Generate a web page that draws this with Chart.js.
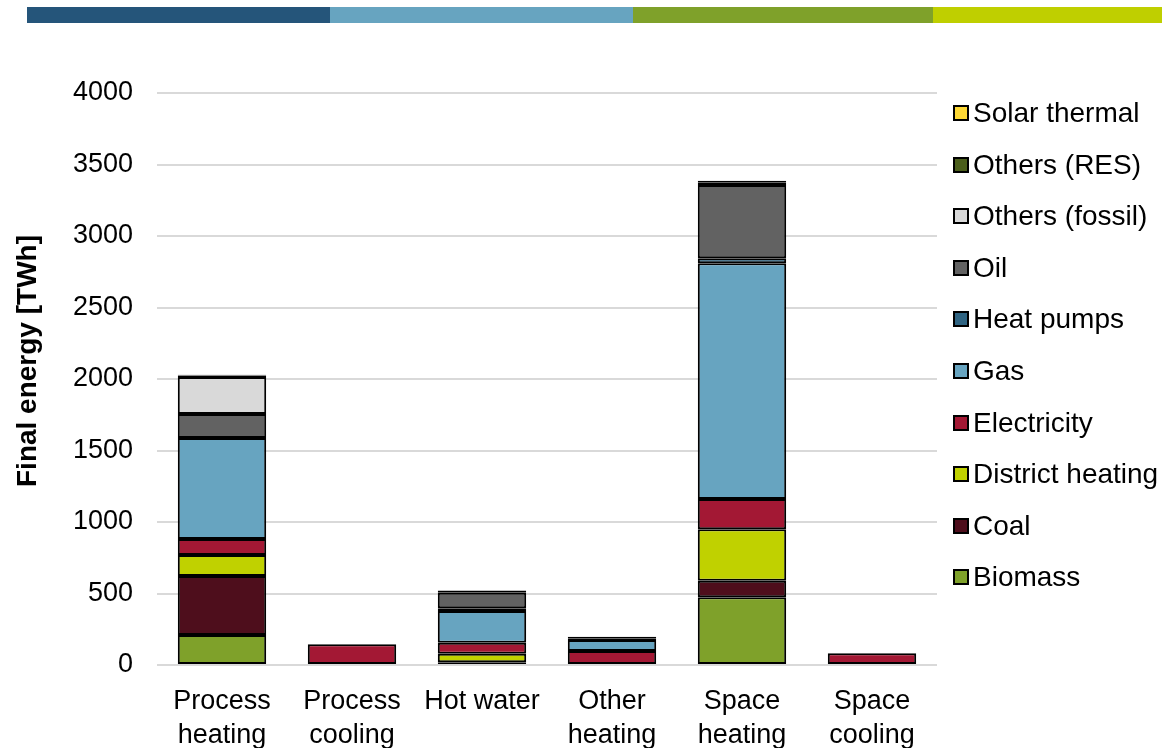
<!DOCTYPE html>
<html>
<head>
<meta charset="utf-8">
<script src="https://cdn.jsdelivr.net/npm/chart.js@4.4.1/dist/chart.umd.min.js"></script>
<style>
  body { margin: 0; background: #fff; font-family: "Liberation Sans", Arial, sans-serif; }
  #wrap { position: relative; width: 1162px; height: 748px; overflow: hidden; }
  #stripe { position: absolute; top: 7px; left: 27px; height: 16px; display: flex; }
  #stripe div { height: 16px; }
  #legend { position: absolute; left: 0; top: 0; }
  .item { position: absolute; left: 953px; display: flex; align-items: center; height: 30px; font-size: 28px; color: #000; white-space: nowrap; }
  .box { width: 16px; height: 16px; border: 2px solid #000; margin-right: 4px; box-sizing: border-box; }
  canvas { position: absolute; left: 0; top: 0; }
</style>
</head>
<body>
<div id="wrap">
  <div id="stripe">
    <div style="width:303px;background:#25557a"></div>
    <div style="width:303px;background:#67a4c0"></div>
    <div style="width:300px;background:#7fa12a"></div>
    <div style="width:229px;background:#bfcf00"></div>
  </div>
  <canvas id="energyChart" width="1162" height="748"></canvas>
  <div id="legend"></div>
</div>
<script>
// categories and series (TWh), stacked from bottom to top
const categories = [['Process', 'heating'], ['Process', 'cooling'], 'Hot water', ['Other', 'heating'], ['Space', 'heating'], ['Space', 'cooling']];
const yTicks = [0, 500, 1000, 1500, 2000, 2500, 3000, 3500, 4000];
const yTitle = 'Final energy [TWh]';

const biomass = [210, 0, 20, 0, 473, 0];
const coal = [412, 0, 0, 0, 117, 0];
const districtHeating = [147, 0, 58, 0, 359, 0];
const electricity = [112, 145, 78, 98, 212, 82];
const gas = [706, 0, 222, 77, 1648, 0];
const heatPumps = [0, 0, 18, 12, 35, 0];
const oil = [168, 0, 110, 0, 513, 0];
const othersFossil = [259, 0, 0, 0, 0, 0];
const othersRes = [10, 0, 0, 0, 15, 0];
const solarThermal = [5, 0, 15, 10, 15, 0];

const series = [
    { label: 'Biomass', data: biomass, color: '#7fa12a' },
    { label: 'Coal', data: coal, color: '#4e0e1c' },
    { label: 'District heating', data: districtHeating, color: '#c0d100' },
    { label: 'Electricity', data: electricity, color: '#a31834' },
    { label: 'Gas', data: gas, color: '#67a4c0' },
    { label: 'Heat pumps', data: heatPumps, color: '#2f6482' },
    { label: 'Oil', data: oil, color: '#626262' },
    { label: 'Others (fossil)', data: othersFossil, color: '#d9d9d9' },
    { label: 'Others (RES)', data: othersRes, color: '#4b5e1b' },
    { label: 'Solar thermal', data: solarThermal, color: '#fdd835' }
];

Chart.defaults.font.family = '"Liberation Sans", Arial, sans-serif';
Chart.defaults.color = '#000';

// y title sits a bit above the middle of the axis, as in the original
const yTitlePlugin = {
    id: 'yTitle',
    afterDraw(chart) {
        const ctx = chart.ctx;
        ctx.save();
        ctx.translate(28, 361);
        ctx.rotate(-Math.PI / 2);
        ctx.font = 'bold 28px "Liberation Sans", Arial, sans-serif';
        ctx.fillStyle = '#000';
        ctx.textAlign = 'center';
        ctx.textBaseline = 'middle';
        ctx.fillText(yTitle, 0, 0);
        ctx.restore();
    }
};

new Chart(document.getElementById('energyChart'), {
    type: 'bar',
    data: {
        labels: categories,
        datasets: series.map(s => ({
            label: s.label,
            data: s.data,
            backgroundColor: s.color,
            borderColor: '#000',
            borderWidth: 2,
            borderSkipped: false,
            barPercentage: 0.68,
            categoryPercentage: 1
        }))
    },
    options: {
        responsive: false,
        animation: false,
        layout: { padding: { left: 10, top: 93, right: 225, bottom: 0 } },
        scales: {
            x: {
                stacked: true,
                grid: { display: false },
                border: { display: false },
                ticks: { font: { size: 27, lineHeight: 1.24 }, padding: 12, maxRotation: 0, autoSkip: false },
                afterFit: s => { s.height = 83; }
            },
            y: {
                stacked: true,
                min: 0,
                max: 4000,
                afterBuildTicks: s => { s.ticks = yTicks.map(v => ({ value: v })); },
                grid: { color: '#d9d9d9', lineWidth: 2, drawTicks: false },
                border: { display: false },
                ticks: { font: { size: 27 }, padding: 24, callback: v => String(v) },
                afterFit: s => { s.width = 147; }
            }
        },
        plugins: {
            legend: { display: false },
            tooltip: { enabled: false }
        }
    },
    plugins: [yTitlePlugin]
});

// legend, top item = last series
const legend = document.getElementById('legend');
series.slice().reverse().forEach((s, i) => {
    const item = document.createElement('div');
    item.className = 'item';
    item.style.top = (113 + i * 51.6 - 15) + 'px';
    item.innerHTML = '<span class="box" style="background:' + s.color + '"></span>' + s.label;
    legend.appendChild(item);
});
</script>
</body>
</html>
